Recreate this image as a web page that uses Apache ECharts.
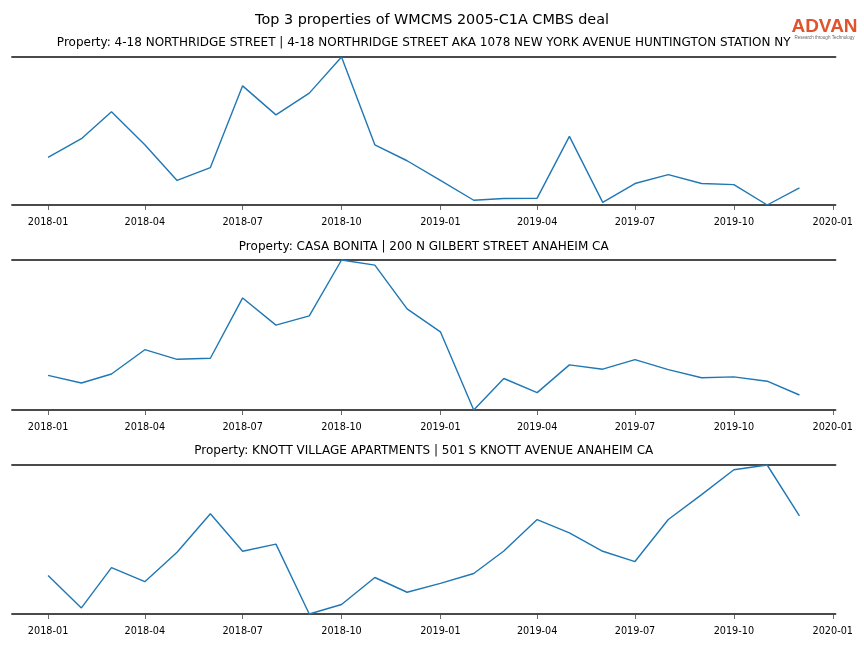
<!DOCTYPE html>
<html>
<head>
<meta charset="utf-8">
<script src="https://cdn.jsdelivr.net/npm/echarts@6/dist/echarts.min.js"></script>
<style>
  html, body { margin: 0; padding: 0; background: #ffffff; }
  #chart { width: 864px; height: 648px; }
</style>
</head>
<body>
<div id="chart"></div>
<script>
// ---- data ----
const mainTitle = 'Top 3 properties of WMCMS 2005-C1A CMBS deal';
const months = ['2018-01','2018-02','2018-03','2018-04','2018-05','2018-06','2018-07','2018-08','2018-09','2018-10','2018-11','2018-12',
                '2019-01','2019-02','2019-03','2019-04','2019-05','2019-06','2019-07','2019-08','2019-09','2019-10','2019-11','2019-12'];
const tickLabels = ['2018-01','2018-04','2018-07','2018-10','2019-01','2019-04','2019-07','2019-10','2020-01'];
const titles = [
  'Property: 4-18 NORTHRIDGE STREET | 4-18 NORTHRIDGE STREET AKA 1078 NEW YORK AVENUE HUNTINGTON STATION NY',
  'Property: CASA BONITA | 200 N GILBERT STREET ANAHEIM CA',
  'Property: KNOTT VILLAGE APARTMENTS | 501 S KNOTT AVENUE ANAHEIM CA'
];
const northridge = [32.2, 44.8, 63.0, 40.7, 16.6, 25.3, 80.5, 60.9, 75.6, 100, 40.7, 29.9,
                    16.6, 3.2, 4.4, 4.6, 46.4, 1.8, 14.5, 20.5, 14.5, 13.8, 0, 11.5];
const casaBonita = [23.1, 18.0, 24.0, 40.2, 33.8, 34.5, 74.7, 56.6, 62.8, 100, 96.6, 67.4,
                    52.1, 0, 21.0, 11.6, 30.1, 27.2, 33.6, 26.9, 21.5, 22.1, 19.2, 10.0];
const knottVillage = [25.9, 4.1, 31.1, 21.7, 41.4, 67.3, 42.1, 46.9, 0, 6.4, 24.5, 14.6,
                      20.6, 27.2, 42.3, 63.4, 54.5, 42.1, 35.2, 63.4, 80.1, 96.8, 100, 65.9];
const seriesList = [northridge, casaBonita, knottVillage];

// ---- helpers ----
function ts(s) { const p = s.split('-'); return new Date(+p[0], +p[1] - 1, 1).getTime(); }
function fmt(v) { const d = new Date(v); return d.getFullYear() + '-' + String(d.getMonth() + 1).padStart(2, '0'); }
const monthTs = months.map(ts);
const tickTs = tickLabels.map(ts);
const span = monthTs[monthTs.length - 1] - monthTs[0];
const xMin = monthTs[0] - 0.048 * span;
const xMax = monthTs[monthTs.length - 1] + 0.048 * span;

const FONT = 'DejaVu Sans';
const panels = [
  { top: 57, height: 148, titleY: 42.5 },
  { top: 260, height: 150, titleY: 246.5 },
  { top: 465, height: 149, titleY: 450.5 }
];
const gridLeft = 12, gridRight = 28.5;
const axisColor = '#4a4a4a';

const grids = [], xAxes = [], yAxes = [], series = [], graphics = [];
panels.forEach((p, i) => {
  grids.push({ left: gridLeft, right: gridRight, top: p.top, height: p.height, containLabel: false });
  xAxes.push({
    type: 'value', gridIndex: i, position: 'bottom', min: xMin, max: xMax,
    axisLine: { show: true, onZero: false, lineStyle: { color: axisColor, width: 1.8 } },
    axisTick: { show: true, customValues: tickTs, length: 5, lineStyle: { color: '#444', width: 0.8 } },
    axisLabel: { show: true, customValues: tickTs, formatter: fmt, color: '#000', fontFamily: FONT, fontSize: 9.7, margin: 12, hideOverlap: false, showMinLabel: true, showMaxLabel: true },
    splitLine: { show: false }
  });
  xAxes.push({
    type: 'value', gridIndex: i, position: 'top', min: xMin, max: xMax,
    axisLine: { show: true, onZero: false, lineStyle: { color: axisColor, width: 1.8 } },
    axisTick: { show: false }, axisLabel: { show: false }, splitLine: { show: false }
  });
  yAxes.push({
    type: 'value', gridIndex: i, min: v => v.min, max: v => v.max, scale: true,
    show: false, splitLine: { show: false }
  });
  series.push({
    type: 'line', xAxisIndex: i * 2, yAxisIndex: i,
    data: seriesList[i].map((v, k) => [monthTs[k], v]),
    showSymbol: false, symbol: 'none', clip: false,
    lineStyle: { color: '#1f77b4', width: 1.4 },
    emphasis: { disabled: true }, animation: false
  });
  graphics.push({
    type: 'text', x: gridLeft + (864 - gridLeft - gridRight) / 2, y: p.titleY,
    style: { text: titles[i], fontFamily: FONT, fontSize: 12, fill: '#000', textAlign: 'center', textVerticalAlign: 'middle' }
  });
});

graphics.push({
  type: 'text', x: 432, y: 20.5,
  style: { text: mainTitle, fontFamily: FONT, fontSize: 14.4, fill: '#000', textAlign: 'center', textVerticalAlign: 'middle' }
});
// logo
graphics.push({
  type: 'text', x: 824.5, y: 27,
  style: { text: 'ADVAN', fontFamily: 'Liberation Sans', fontSize: 19, fontWeight: 'bold', fill: '#e0532c', textAlign: 'center', textVerticalAlign: 'middle' }
});
graphics.push({
  type: 'text', x: 824.5, y: 38,
  style: { text: 'Research through Technology', fontFamily: 'Liberation Sans', fontSize: 4.5, fill: '#666', textAlign: 'center', textVerticalAlign: 'middle' }
});

const chart = echarts.init(document.getElementById('chart'), null, { renderer: 'canvas' });
chart.setOption({
  animation: false,
  backgroundColor: '#ffffff',
  grid: grids,
  xAxis: xAxes,
  yAxis: yAxes,
  series: series,
  graphic: graphics
});
</script>
</body>
</html>
